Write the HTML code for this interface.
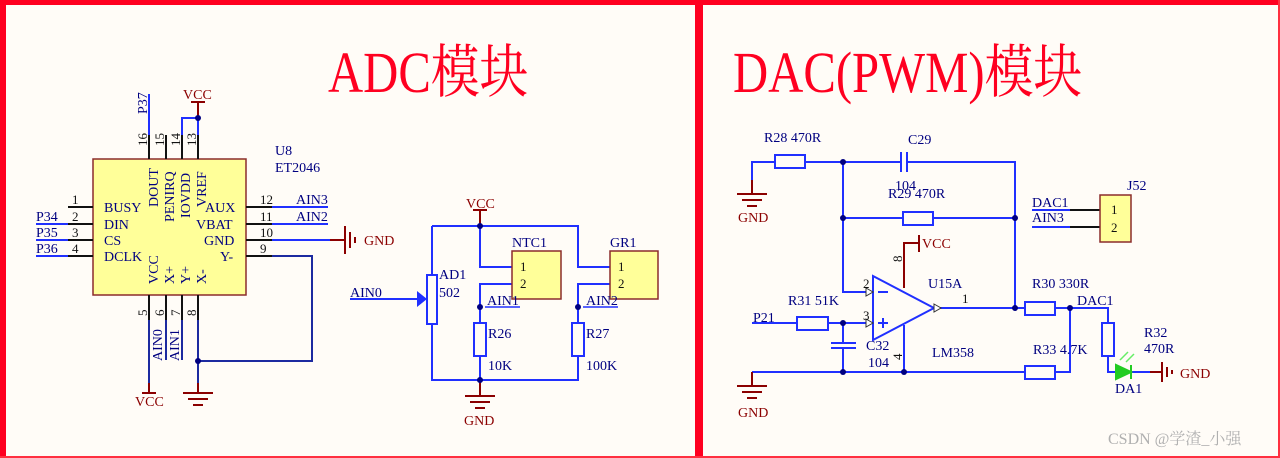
<!DOCTYPE html>
<html><head><meta charset="utf-8"><style>
html,body{margin:0;padding:0;background:#fffcf7;}
svg{display:block;}
text{font-family:"Liberation Serif","Noto Serif CJK SC",serif;}
</style></head><body>
<svg width="1280" height="458" viewBox="0 0 1280 458" xmlns="http://www.w3.org/2000/svg">
<rect width="1280" height="458" fill="#fffcf7"/>
<rect x="0" y="0" width="1280" height="5" fill="#ff0020"/>
<rect x="0" y="0" width="6" height="458" fill="#ff0020"/>
<rect x="695" y="0" width="8" height="458" fill="#ff0020"/>
<rect x="1278" y="0" width="2" height="458" fill="#ff3040"/>
<rect x="0" y="456" width="1280" height="2" fill="#ff3040"/>
<text x="328" y="92" font-size="58" fill="#ff0020" transform="translate(328 0) scale(0.84 1) translate(-328 0)">ADC模块</text>
<text x="733" y="92" font-size="58" fill="#ff0020" transform="translate(733 0) scale(0.84 1) translate(-733 0)">DAC(PWM)模块</text>

<g fill="none" stroke-width="2">
<rect x="93" y="159" width="153" height="136" fill="#ffff99" stroke="#8b2c2c" stroke-width="1.5"/>
<path d="M149 159V94" stroke="#2030ff"/>
<path d="M149 159V135M166 159V135M182 159V135M198 159V135" stroke="#111"/>
<path d="M182 135V118H198" stroke="#2030ff"/>
<path d="M198 135V118" stroke="#2030ff"/>
<path d="M198 118V102M191 102H205" stroke="#8b0000"/>
<path d="M68 207H93M68 224H93M68 240H93M68 256H93" stroke="#111"/>
<path d="M36 224H68M36 240H68M36 256H68" stroke="#2030ff"/>
<path d="M246 207H272M246 224H272M246 240H272M246 256H272" stroke="#111"/>
<path d="M272 207H328M272 224H328M272 240H330" stroke="#2030ff"/>
<path d="M330 240H345M345 226V254M350 232V248M355 237V243" stroke="#8b0000"/>
<path d="M272 256H312V361H198" stroke="#1c2aa0"/>
<path d="M149 295V320M166 295V320M182 295V320M198 295V320" stroke="#111"/>
<path d="M149 320V383M166 320V360M182 320V360" stroke="#1c2aa0"/>
<path d="M198 320V383" stroke="#1c2aa0"/>
<path d="M149 383V393M142 393H156" stroke="#8b0000"/>
<path d="M198 383V393M183 393H213M188 399H208M193 405H203" stroke="#8b0000"/>

<path d="M480 210V226M473 210H487" stroke="#8b0000"/>
<path d="M432 226H578V267H610M480 226V267H512M512 284H480V323M610 284H578V323M432 226V275M432 324V380H578V356M480 356V380" stroke="#2030ff"/>
<path d="M420 299H350" stroke="#2030ff"/>
<rect x="427" y="275" width="10" height="49" stroke="#2030ff"/>
<rect x="474" y="323" width="12" height="33" stroke="#2030ff"/>
<rect x="572" y="323" width="12" height="33" stroke="#2030ff"/>
<path d="M485 307H520M583 307H618" stroke="#2030ff" stroke-width="1.5"/>
<rect x="512" y="251" width="49" height="48" fill="#ffff99" stroke="#8b2c2c" stroke-width="1.5"/>
<rect x="610" y="251" width="48" height="48" fill="#ffff99" stroke="#8b2c2c" stroke-width="1.5"/>
<path d="M480 380V396M465 396H495M470 402H490M475 408H485" stroke="#8b0000"/>

<path d="M752 180V162H775M805 162H901M907 162H1015V308M843 162V292H873M843 218H903M933 218H1015" stroke="#2030ff"/>
<path d="M901 152V172M907 152V172" stroke="#2030ff"/>
<rect x="775" y="155" width="30" height="13" stroke="#2030ff"/>
<rect x="903" y="212" width="30" height="13" stroke="#2030ff"/>
<path d="M752 180V194M737 194H767M742 200H762M747 206H757" stroke="#8b0000"/>
<path d="M873 276V340L934 308Z" stroke="#2030ff"/>
<path d="M878 292H888M878 323H888M883 318V328" stroke="#2030ff"/>
<path d="M934 308H1025M1055 308H1108V323M752 323H797M828 323H873M843 323V343M843 348V372M752 372H1025M1055 372H1070V308M1108 356V372H1116M1131 372H1150" stroke="#2030ff"/>
<path d="M831 343H856M831 348H856" stroke="#2030ff"/>
<rect x="797" y="317" width="31" height="13" stroke="#2030ff"/>
<rect x="1025" y="302" width="30" height="13" stroke="#2030ff"/>
<rect x="1025" y="366" width="30" height="13" stroke="#2030ff"/>
<rect x="1102" y="323" width="12" height="33" stroke="#2030ff"/>
<path d="M904 288V243H919M919 235V252" stroke="#8b0000"/>
<path d="M904 325V372" stroke="#2030ff"/>
<path d="M752 372V386M737 386H767M742 392H762M747 398H757" stroke="#8b0000"/>
<path d="M1150 372H1162M1162 362V382M1167 367V377M1172 370V374" stroke="#8b0000"/>
<path d="M1116 365V379L1131 372Z" fill="#22cc22" stroke="#22cc22"/>
<path d="M1131 365V379" stroke="#22cc22"/>
<path d="M1120 360L1128 352M1126 362L1134 354" stroke="#66ee66" stroke-width="1.5"/>
<path d="M1032 210H1100M1032 227H1100" stroke="#111"/>
<path d="M1032 210H1070M1032 227H1070" stroke="#2030ff"/>
<rect x="1100" y="195" width="31" height="47" fill="#ffff99" stroke="#8b2c2c" stroke-width="1.5"/>
</g>
<polygon points="417,291 427,299 417,307" fill="#2030ff"/>
<polygon points="866,288 873,292 866,296" fill="#fff" stroke="#333" stroke-width="1"/>
<polygon points="866,319 873,323 866,327" fill="#fff" stroke="#333" stroke-width="1"/>
<polygon points="934,304 941,308 934,312" fill="#fff" stroke="#333" stroke-width="1"/>
<g fill="#000080">
<circle cx="198" cy="118" r="3"/><circle cx="198" cy="361" r="3"/>
<circle cx="480" cy="226" r="3"/><circle cx="480" cy="307" r="3"/><circle cx="578" cy="307" r="3"/><circle cx="480" cy="380" r="3"/>
<circle cx="843" cy="162" r="3"/><circle cx="843" cy="218" r="3"/><circle cx="1015" cy="218" r="3"/><circle cx="1015" cy="308" r="3"/>
<circle cx="1070" cy="308" r="3"/><circle cx="843" cy="323" r="3"/><circle cx="843" cy="372" r="3"/><circle cx="904" cy="372" r="3"/>
</g>

<g font-size="14" fill="#8b0000">
<text x="183" y="99">VCC</text><text x="135" y="406">VCC</text>
<text x="364" y="245">GND</text><text x="466" y="208">VCC</text><text x="464" y="425">GND</text>
<text x="738" y="222">GND</text><text x="738" y="417">GND</text>
<text x="922" y="248">VCC</text><text x="1180" y="378">GND</text>
</g>
<g font-size="14" fill="#000080">
<text x="275" y="155">U8</text><text x="275" y="172">ET2046</text>
<text x="104" y="212">BUSY</text><text x="104" y="229">DIN</text><text x="104" y="245">CS</text><text x="104" y="261">DCLK</text>
<text x="205" y="212">AUX</text><text x="196" y="229">VBAT</text><text x="204" y="245">GND</text><text x="220" y="261">Y-</text>
<text x="296" y="204">AIN3</text><text x="296" y="221">AIN2</text>
<text x="36" y="221">P34</text><text x="36" y="237">P35</text><text x="36" y="253">P36</text>
<text x="350" y="297">AIN0</text>
<text x="439" y="279">AD1</text><text x="439" y="297">502</text>
<text x="512" y="247">NTC1</text><text x="610" y="247">GR1</text>
<text x="487" y="305">AIN1</text><text x="586" y="305">AIN2</text>
<text x="488" y="338">R26</text><text x="488" y="370">10K</text>
<text x="586" y="338">R27</text><text x="586" y="370">100K</text>
<text x="764" y="142">R28  470R</text><text x="908" y="144">C29</text>
<text x="895" y="190">104</text><text x="888" y="198">R29  470R</text>
<text x="928" y="288">U15A</text><text x="788" y="305">R31  51K</text>
<text x="753" y="322">P21</text><text x="866" y="350">C32</text><text x="868" y="367">104</text>
<text x="932" y="357">LM358</text>
<text x="1032" y="288">R30  330R</text><text x="1033" y="354">R33  4.7K</text>
<text x="1077" y="305">DAC1</text><text x="1144" y="337">R32</text><text x="1144" y="353">470R</text>
<text x="1115" y="393">DA1</text>
<text x="1032" y="207">DAC1</text><text x="1032" y="222">AIN3</text>
<text x="1127" y="190">J52</text>
</g>
<g font-size="13" fill="#111">
<text x="520" y="271">1</text><text x="520" y="288">2</text>
<text x="618" y="271">1</text><text x="618" y="288">2</text>
<text x="1111" y="214">1</text><text x="1111" y="232">2</text>
<text x="72" y="204">1</text><text x="72" y="221">2</text><text x="72" y="237">3</text><text x="72" y="253">4</text>
<text x="260" y="204">12</text><text x="260" y="221">11</text><text x="260" y="237">10</text><text x="260" y="253">9</text>
<text x="863" y="288">2</text><text x="863" y="320">3</text><text x="962" y="303">1</text>
</g>
<g font-size="13" fill="#111">
<text transform="translate(147 146) rotate(-90)">16</text>
<text transform="translate(164 146) rotate(-90)">15</text>
<text transform="translate(180 146) rotate(-90)">14</text>
<text transform="translate(196 146) rotate(-90)">13</text>
<text transform="translate(147 316) rotate(-90)">5</text>
<text transform="translate(164 316) rotate(-90)">6</text>
<text transform="translate(180 316) rotate(-90)">7</text>
<text transform="translate(196 316) rotate(-90)">8</text>
<text transform="translate(902 262) rotate(-90)">8</text>
<text transform="translate(902 360) rotate(-90)">4</text>
</g>
<g font-size="14" fill="#000080">
<text transform="translate(147 114) rotate(-90)">P37</text>
<text transform="translate(158 207) rotate(-90)">DOUT</text>
<text transform="translate(174 222) rotate(-90)">PENIRQ</text>
<text transform="translate(190 218) rotate(-90)">IOVDD</text>
<text transform="translate(206 207) rotate(-90)">VREF</text>
<text transform="translate(158 284) rotate(-90)">VCC</text>
<text transform="translate(174 284) rotate(-90)">X+</text>
<text transform="translate(190 284) rotate(-90)">Y+</text>
<text transform="translate(206 284) rotate(-90)">X-</text>
<text transform="translate(162 361) rotate(-90)">AIN0</text>
<text transform="translate(179 361) rotate(-90)">AIN1</text>
</g>
<text x="1108" y="444" font-size="16" fill="#b0b0b0" font-family="Liberation Sans,Noto Sans CJK SC,sans-serif">CSDN @学渣_小强</text>
</svg>
</body></html>
